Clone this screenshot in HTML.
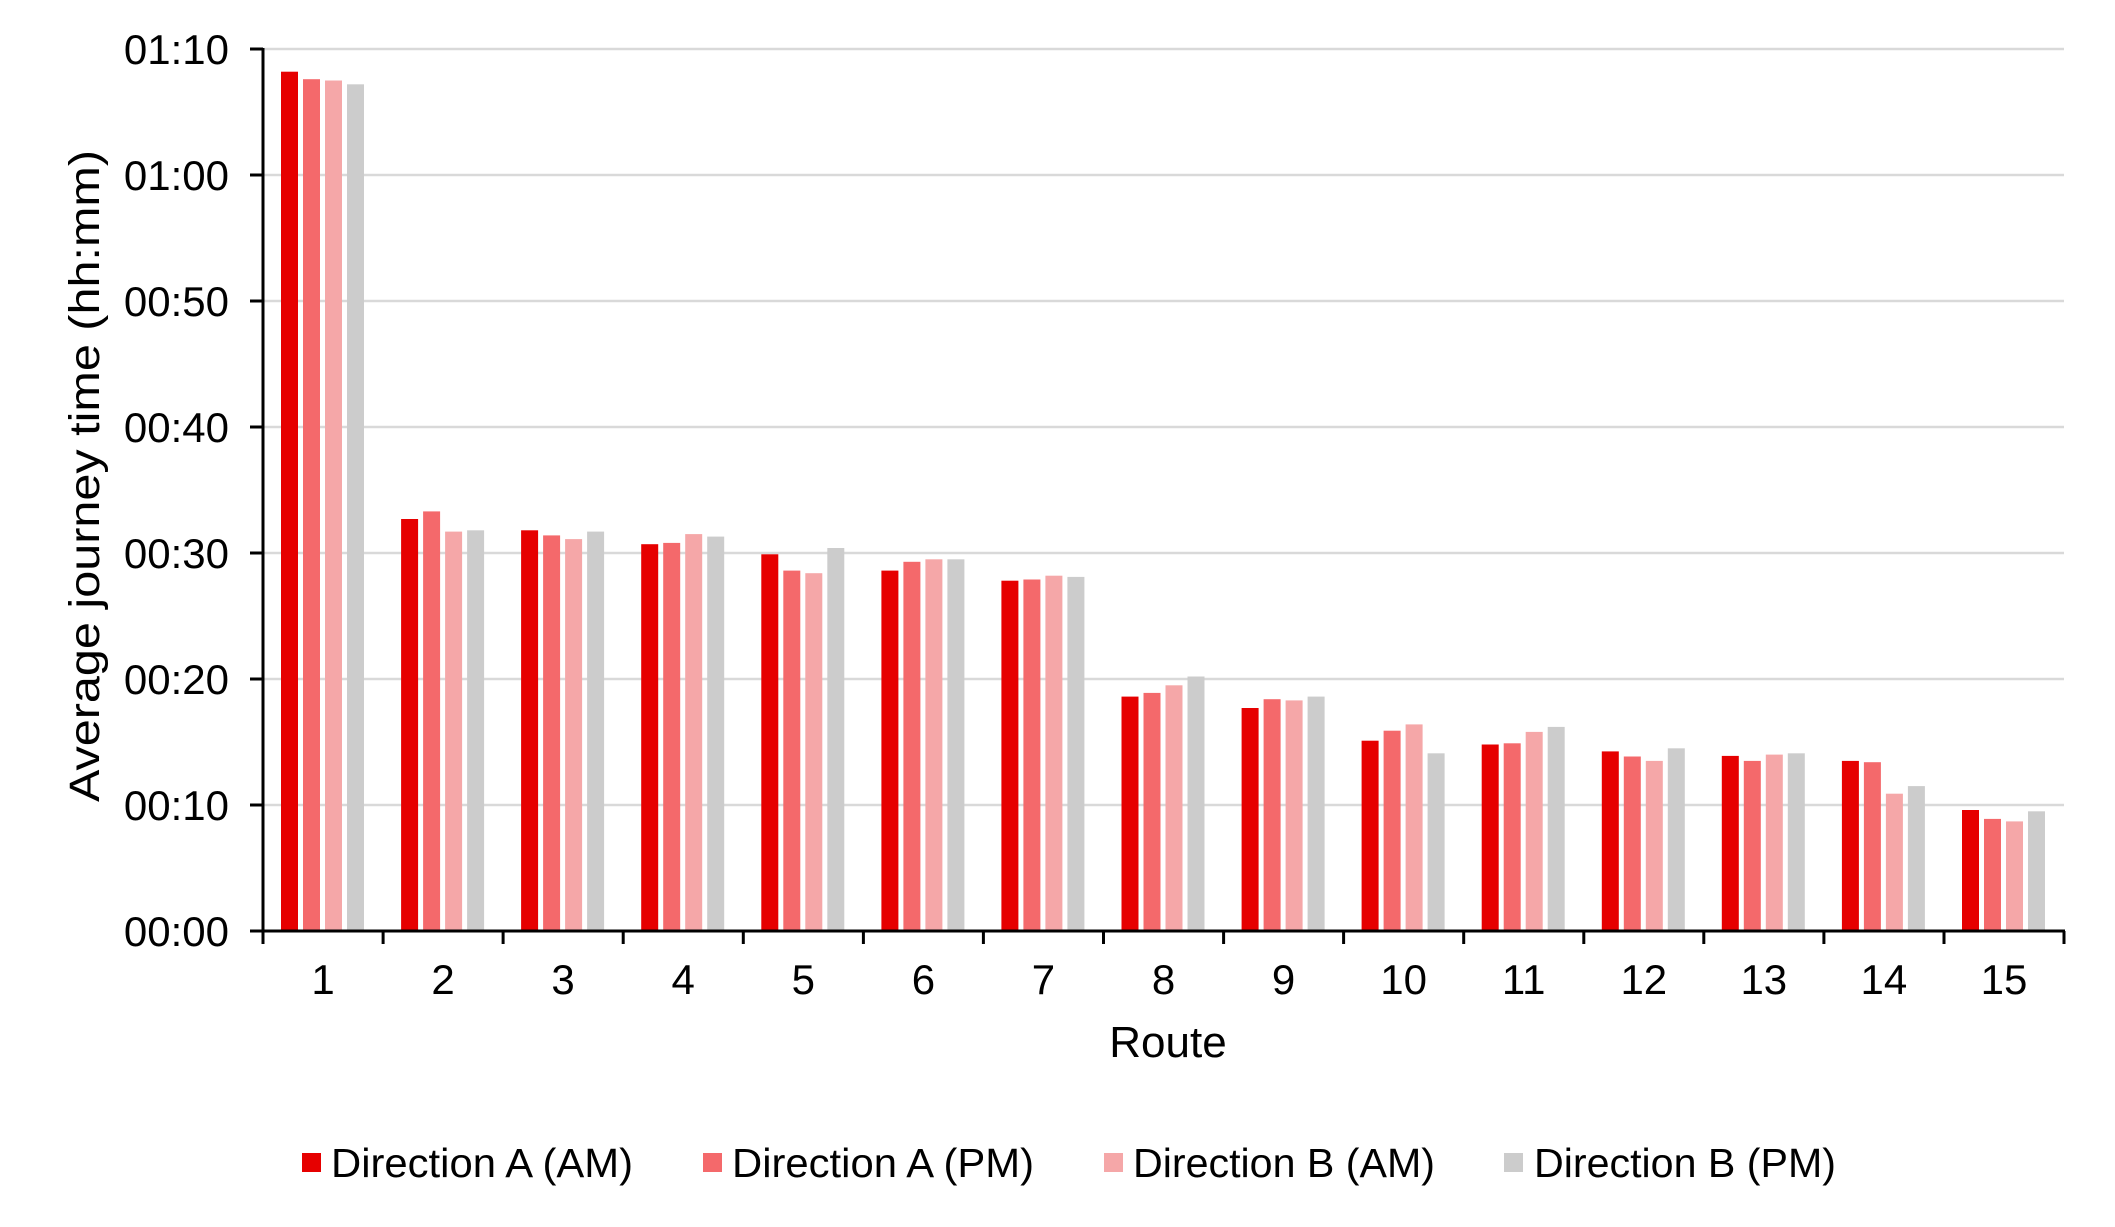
<!DOCTYPE html>
<html><head><meta charset="utf-8"><style>
html,body{margin:0;padding:0;background:#fff;}
svg{display:block;font-family:"Liberation Sans",Arial,sans-serif;}
</style></head><body>
<svg width="2115" height="1227" viewBox="0 0 2115 1227" xmlns="http://www.w3.org/2000/svg">
<g stroke="#d9d9d9" stroke-width="2.5">
<line x1="263" y1="49" x2="2064" y2="49"/>
<line x1="263" y1="175" x2="2064" y2="175"/>
<line x1="263" y1="301" x2="2064" y2="301"/>
<line x1="263" y1="427" x2="2064" y2="427"/>
<line x1="263" y1="553" x2="2064" y2="553"/>
<line x1="263" y1="679" x2="2064" y2="679"/>
<line x1="263" y1="805" x2="2064" y2="805"/>
</g>
<g>
<g transform="translate(281,931) scale(1,-1)"><rect x="0" width="17" height="859.3" fill="#e60000"/><rect x="22" width="17" height="851.8" fill="#f4696b"/><rect x="44" width="17" height="850.5" fill="#f5a7a8"/><rect x="66" width="17" height="846.7" fill="#cccccc"/></g>
<g transform="translate(401.1,931) scale(1,-1)"><rect x="0" width="17" height="412" fill="#e60000"/><rect x="22" width="17" height="419.6" fill="#f4696b"/><rect x="44" width="17" height="399.4" fill="#f5a7a8"/><rect x="66" width="17" height="400.7" fill="#cccccc"/></g>
<g transform="translate(521.1,931) scale(1,-1)"><rect x="0" width="17" height="400.7" fill="#e60000"/><rect x="22" width="17" height="395.6" fill="#f4696b"/><rect x="44" width="17" height="391.9" fill="#f5a7a8"/><rect x="66" width="17" height="399.4" fill="#cccccc"/></g>
<g transform="translate(641.2,931) scale(1,-1)"><rect x="0" width="17" height="386.8" fill="#e60000"/><rect x="22" width="17" height="388.1" fill="#f4696b"/><rect x="44" width="17" height="396.9" fill="#f5a7a8"/><rect x="66" width="17" height="394.4" fill="#cccccc"/></g>
<g transform="translate(761.3,931) scale(1,-1)"><rect x="0" width="17" height="376.7" fill="#e60000"/><rect x="22" width="17" height="360.4" fill="#f4696b"/><rect x="44" width="17" height="357.8" fill="#f5a7a8"/><rect x="66" width="17" height="383" fill="#cccccc"/></g>
<g transform="translate(881.4,931) scale(1,-1)"><rect x="0" width="17" height="360.4" fill="#e60000"/><rect x="22" width="17" height="369.2" fill="#f4696b"/><rect x="44" width="17" height="371.7" fill="#f5a7a8"/><rect x="66" width="17" height="371.7" fill="#cccccc"/></g>
<g transform="translate(1001.4,931) scale(1,-1)"><rect x="0" width="17" height="350.3" fill="#e60000"/><rect x="22" width="17" height="351.5" fill="#f4696b"/><rect x="44" width="17" height="355.3" fill="#f5a7a8"/><rect x="66" width="17" height="354.1" fill="#cccccc"/></g>
<g transform="translate(1121.5,931) scale(1,-1)"><rect x="0" width="17" height="234.4" fill="#e60000"/><rect x="22" width="17" height="238.1" fill="#f4696b"/><rect x="44" width="17" height="245.7" fill="#f5a7a8"/><rect x="66" width="17" height="254.5" fill="#cccccc"/></g>
<g transform="translate(1241.6,931) scale(1,-1)"><rect x="0" width="17" height="223" fill="#e60000"/><rect x="22" width="17" height="231.8" fill="#f4696b"/><rect x="44" width="17" height="230.6" fill="#f5a7a8"/><rect x="66" width="17" height="234.4" fill="#cccccc"/></g>
<g transform="translate(1361.6,931) scale(1,-1)"><rect x="0" width="17" height="190.3" fill="#e60000"/><rect x="22" width="17" height="200.3" fill="#f4696b"/><rect x="44" width="17" height="206.6" fill="#f5a7a8"/><rect x="66" width="17" height="177.7" fill="#cccccc"/></g>
<g transform="translate(1481.7,931) scale(1,-1)"><rect x="0" width="17" height="186.5" fill="#e60000"/><rect x="22" width="17" height="187.7" fill="#f4696b"/><rect x="44" width="17" height="199.1" fill="#f5a7a8"/><rect x="66" width="17" height="204.1" fill="#cccccc"/></g>
<g transform="translate(1601.8,931) scale(1,-1)"><rect x="0" width="17" height="179.6" fill="#e60000"/><rect x="22" width="17" height="174.5" fill="#f4696b"/><rect x="44" width="17" height="170.1" fill="#f5a7a8"/><rect x="66" width="17" height="182.7" fill="#cccccc"/></g>
<g transform="translate(1721.8,931) scale(1,-1)"><rect x="0" width="17" height="175.1" fill="#e60000"/><rect x="22" width="17" height="170.1" fill="#f4696b"/><rect x="44" width="17" height="176.4" fill="#f5a7a8"/><rect x="66" width="17" height="177.7" fill="#cccccc"/></g>
<g transform="translate(1841.9,931) scale(1,-1)"><rect x="0" width="17" height="170.1" fill="#e60000"/><rect x="22" width="17" height="168.8" fill="#f4696b"/><rect x="44" width="17" height="137.3" fill="#f5a7a8"/><rect x="66" width="17" height="144.9" fill="#cccccc"/></g>
<g transform="translate(1962,931) scale(1,-1)"><rect x="0" width="17" height="121" fill="#e60000"/><rect x="22" width="17" height="112.1" fill="#f4696b"/><rect x="44" width="17" height="109.6" fill="#f5a7a8"/><rect x="66" width="17" height="119.7" fill="#cccccc"/></g>
</g>
<g stroke="#000" stroke-width="3">
<line x1="263" y1="48" x2="263" y2="932"/>
<line x1="250" y1="49" x2="263" y2="49"/>
<line x1="250" y1="175" x2="263" y2="175"/>
<line x1="250" y1="301" x2="263" y2="301"/>
<line x1="250" y1="427" x2="263" y2="427"/>
<line x1="250" y1="553" x2="263" y2="553"/>
<line x1="250" y1="679" x2="263" y2="679"/>
<line x1="250" y1="805" x2="263" y2="805"/>
<line x1="250" y1="931" x2="2065" y2="931"/>
<line x1="263" y1="931" x2="263" y2="944"/>
<line x1="383.1" y1="931" x2="383.1" y2="944"/>
<line x1="503.1" y1="931" x2="503.1" y2="944"/>
<line x1="623.2" y1="931" x2="623.2" y2="944"/>
<line x1="743.3" y1="931" x2="743.3" y2="944"/>
<line x1="863.4" y1="931" x2="863.4" y2="944"/>
<line x1="983.4" y1="931" x2="983.4" y2="944"/>
<line x1="1103.5" y1="931" x2="1103.5" y2="944"/>
<line x1="1223.6" y1="931" x2="1223.6" y2="944"/>
<line x1="1343.6" y1="931" x2="1343.6" y2="944"/>
<line x1="1463.7" y1="931" x2="1463.7" y2="944"/>
<line x1="1583.8" y1="931" x2="1583.8" y2="944"/>
<line x1="1703.8" y1="931" x2="1703.8" y2="944"/>
<line x1="1823.9" y1="931" x2="1823.9" y2="944"/>
<line x1="1944" y1="931" x2="1944" y2="944"/>
<line x1="2064" y1="931" x2="2064" y2="944"/>
</g>
<g font-size="42" fill="#000" text-anchor="end">
<text x="229" y="64">01:10</text>
<text x="229" y="190">01:00</text>
<text x="229" y="316">00:50</text>
<text x="229" y="442">00:40</text>
<text x="229" y="568">00:30</text>
<text x="229" y="694">00:20</text>
<text x="229" y="820">00:10</text>
<text x="229" y="946">00:00</text>
</g>
<g font-size="42" fill="#000" text-anchor="middle">
<text x="323" y="994">1</text>
<text x="443.1" y="994">2</text>
<text x="563.1" y="994">3</text>
<text x="683.2" y="994">4</text>
<text x="803.3" y="994">5</text>
<text x="923.4" y="994">6</text>
<text x="1043.4" y="994">7</text>
<text x="1163.5" y="994">8</text>
<text x="1283.6" y="994">9</text>
<text x="1403.6" y="994">10</text>
<text x="1523.7" y="994">11</text>
<text x="1643.8" y="994">12</text>
<text x="1763.8" y="994">13</text>
<text x="1883.9" y="994">14</text>
<text x="2004" y="994">15</text>
</g>
<text x="1168" y="1057" font-size="44" text-anchor="middle">Route</text>
<text transform="translate(99,476) rotate(-90)" font-size="43" text-anchor="middle" textLength="652" lengthAdjust="spacingAndGlyphs">Average journey time (hh:mm)</text>
<g font-size="41">
<rect x="302" y="1153" width="19" height="19" fill="#e60000"/><text x="331" y="1177" textLength="302" lengthAdjust="spacingAndGlyphs">Direction A (AM)</text>
<rect x="703" y="1153" width="19" height="19" fill="#f4696b"/><text x="732" y="1177" textLength="302" lengthAdjust="spacingAndGlyphs">Direction A (PM)</text>
<rect x="1104" y="1153" width="19" height="19" fill="#f5a7a8"/><text x="1133" y="1177" textLength="302" lengthAdjust="spacingAndGlyphs">Direction B (AM)</text>
<rect x="1504" y="1153" width="19" height="19" fill="#cccccc"/><text x="1534" y="1177" textLength="302" lengthAdjust="spacingAndGlyphs">Direction B (PM)</text>
</g>
</svg>
</body></html>
